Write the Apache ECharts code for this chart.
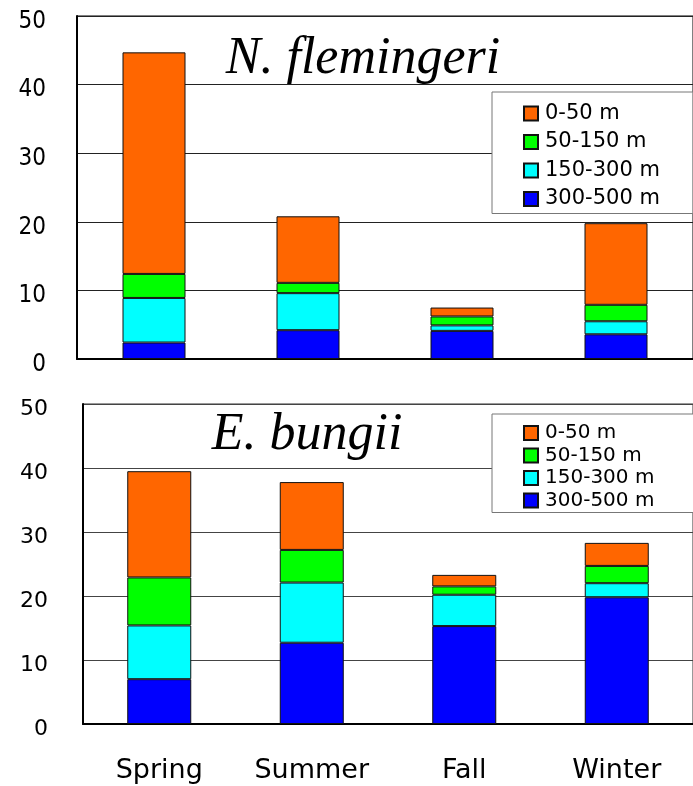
<!DOCTYPE html>
<html>
<head>
<meta charset="utf-8">
<script src="https://cdn.jsdelivr.net/npm/echarts@6/dist/echarts.min.js"></script>
<style>
  html, body { margin: 0; padding: 0; background: #fff; }
  #chart { width: 693px; height: 786px; }
</style>
</head>
<body>
<div id="chart"></div>
<script>
// seasons on the x axis, depth bands in the legend (top to bottom)
const seasons = ['Spring', 'Summer', 'Fall', 'Winter']
const depthBands = ['0-50 m', '50-150 m', '150-300 m', '300-500 m']
const bandColors = ['#ff6600', '#00ff00', '#00ffff', '#0000ff']

// N. flemingeri, stacked from deepest band upward
const nf300to500 = [2.4, 4.2, 4.1, 3.6]
const nf150to300 = [6.5, 5.4, 0.8, 1.9]
const nf50to150 = [3.5, 1.5, 1.3, 2.4]
const nf0to50 = [32.3, 9.7, 1.3, 11.9]

// E. bungii
const eb300to500 = [7.0, 12.7, 15.3, 19.8]
const eb150to300 = [8.4, 9.4, 4.9, 2.2]
const eb50to150 = [7.5, 5.1, 1.3, 2.7]
const eb0to50 = [16.6, 10.6, 1.8, 3.6]

const chart = echarts.init(document.getElementById('chart'))

const sans = '"DejaVu Sans", sans-serif'
const condensed = '"DejaVu Sans Condensed", "DejaVu Sans", sans-serif'
const serif = '"Liberation Serif", "DejaVu Serif", serif'

const stackSeries = (bands, idx, barWidth) => {
  // bands given top-down (0-50 first); stack bottom-up
  return bands.map((vals, i) => ({
    name: depthBands[i],
    type: 'bar',
    stack: 'g' + idx,
    xAxisIndex: idx,
    yAxisIndex: idx,
    barWidth: barWidth,
    data: vals,
    itemStyle: { color: bandColors[i], borderColor: '#111', borderWidth: 1 }
  })).reverse()
}

const xAxisBase = (idx, showLabel) => ({
  type: 'category',
  gridIndex: idx,
  data: seasons,
  axisLine: { lineStyle: { color: '#000', width: 2 } },
  axisTick: { inside: true, length: 10, lineStyle: { color: '#000', width: 1 } },
  axisLabel: {
    show: showLabel,
    color: '#000',
    fontFamily: sans,
    fontSize: 27,
    margin: 33
  }
})

const yAxisBase = (idx, font, size, margin, gridColor) => ({
  type: 'value',
  gridIndex: idx,
  min: 0,
  max: 50,
  interval: 10,
  axisLine: { show: true, lineStyle: { color: '#000', width: 2 } },
  axisTick: { show: false },
  splitLine: { lineStyle: { color: gridColor, width: 1 } },
  axisLabel: {
    color: '#000',
    fontFamily: font,
    fontSize: size,
    margin: margin,
    verticalAlign: 'top',
    lineHeight: 11
  }
})

const legendBase = (top, pad, gap, size) => ({
  data: depthBands,
  orient: 'vertical',
  left: 492,
  top: top,
  padding: pad,
  icon: 'rect',
  itemWidth: 14,
  itemHeight: 14,
  itemGap: gap,
  borderColor: '#777',
  borderWidth: 1,
  backgroundColor: '#fff',
  textStyle: { color: '#000', fontFamily: sans, fontSize: size, padding: [0, 0, 0, 2] }
})

chart.setOption({
  animation: false,
  backgroundColor: '#fff',
  title: [
    {
      text: 'N. flemingeri',
      left: 358,
      top: 28,
      textAlign: 'center',
      textStyle: { fontFamily: serif, fontStyle: 'italic', fontWeight: 'normal', fontSize: 52, color: '#000' }
    },
    {
      text: 'E. bungii',
      left: 302,
      top: 404,
      textAlign: 'center',
      textStyle: { fontFamily: serif, fontStyle: 'italic', fontWeight: 'normal', fontSize: 52, color: '#000' }
    }
  ],
  legend: [
    legendBase(92, [11, 33, 4, 31], 7.5, 21),
    legendBase(414, [9, 60, 2, 31], 2.5, 20)
  ],
  grid: [
    { left: 77, top: 16, width: 625, height: 343, show: true, borderColor: '#000', borderWidth: 1 },
    { left: 83, top: 404, width: 639, height: 320, show: true, borderColor: '#333', borderWidth: 1 }
  ],
  xAxis: [xAxisBase(0, false), xAxisBase(1, true)],
  yAxis: [
    yAxisBase(0, condensed, 24, 31, '#222'),
    yAxisBase(1, sans, 22, 35, '#444')
  ],
  series: [
    ...stackSeries([nf0to50, nf50to150, nf150to300, nf300to500], 0, 63),
    ...stackSeries([eb0to50, eb50to150, eb150to300, eb300to500], 1, 64)
  ]
})
</script>
</body>
</html>
